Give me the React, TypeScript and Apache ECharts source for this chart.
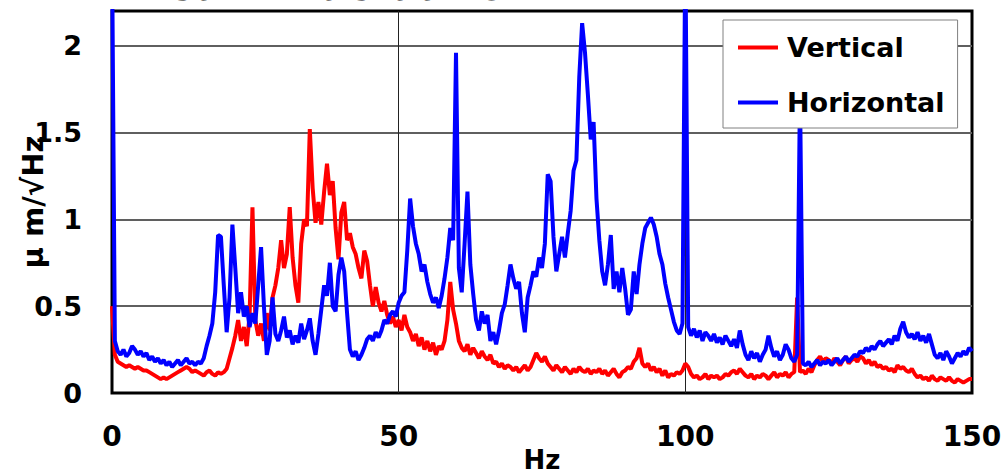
import React, { useEffect, useRef } from "react";
import * as echarts from "echarts";

// Amplitude spectra sampled every 0.5 Hz from 0 to 150 Hz
const FREQ_STEP_HZ = 0.5;
const X_TICKS = [0, 50, 100, 150];
const Y_TICKS = [0, 0.5, 1, 1.5, 2];
const SERIES_NAMES = ["Vertical", "Horizontal"];
const TITLE = "Beam Fluctuation";
const X_NAME = "Hz";
const Y_NAME = "μ m/√Hz";

const vertical: number[] = [
  0.50, 0.22, 0.18, 0.17, 0.16, 0.15, 0.16, 0.15, 0.14, 0.15,
  0.14, 0.13, 0.13, 0.12, 0.11, 0.10, 0.09, 0.08, 0.09, 0.08,
  0.09, 0.10, 0.11, 0.12, 0.13, 0.14, 0.15, 0.14, 0.12, 0.13,
  0.12, 0.11, 0.10, 0.12, 0.13, 0.11, 0.10, 0.12, 0.11, 0.12,
  0.14, 0.20, 0.26, 0.33, 0.42, 0.30, 0.38, 0.27, 0.45, 1.07,
  0.42, 0.33, 0.40, 0.30, 0.46, 0.36, 0.55, 0.62, 0.72, 0.88,
  0.72, 0.80, 1.07, 0.78, 0.62, 0.52, 0.86, 1.00, 0.96, 1.52,
  1.18, 0.98, 1.10, 0.97, 1.16, 1.32, 1.14, 1.22, 0.95, 0.77,
  1.04, 1.10, 0.88, 0.92, 0.84, 0.80, 0.72, 0.66, 0.82, 0.76,
  0.62, 0.50, 0.61, 0.52, 0.47, 0.53, 0.45, 0.40, 0.44, 0.38,
  0.42, 0.36, 0.45, 0.38, 0.35, 0.30, 0.34, 0.27, 0.32, 0.25,
  0.30, 0.24, 0.29, 0.22, 0.27, 0.25, 0.30, 0.42, 0.64, 0.48,
  0.40, 0.30, 0.26, 0.24, 0.28, 0.22, 0.26, 0.23, 0.20, 0.24,
  0.21, 0.19, 0.22, 0.17, 0.18, 0.15, 0.17, 0.14, 0.16, 0.15,
  0.13, 0.15, 0.12, 0.14, 0.16, 0.13, 0.15, 0.19, 0.23, 0.20,
  0.18, 0.21, 0.17, 0.15, 0.13, 0.16, 0.14, 0.12, 0.15, 0.13,
  0.11, 0.14, 0.12, 0.15, 0.13, 0.12, 0.14, 0.11, 0.13, 0.12,
  0.14, 0.11, 0.13, 0.10, 0.12, 0.14, 0.11, 0.09, 0.12, 0.13,
  0.15, 0.14, 0.18, 0.20, 0.26, 0.17, 0.15, 0.17, 0.13, 0.15,
  0.12, 0.14, 0.10, 0.13, 0.09, 0.11, 0.10, 0.12, 0.11, 0.13,
  0.17, 0.15, 0.11, 0.09, 0.10, 0.08, 0.09, 0.11, 0.08, 0.10,
  0.09, 0.10, 0.08, 0.09, 0.11, 0.10, 0.12, 0.13, 0.11, 0.14,
  0.12, 0.10, 0.09, 0.11, 0.08, 0.10, 0.09, 0.11, 0.10, 0.08,
  0.10, 0.12, 0.09, 0.11, 0.10, 0.12, 0.09, 0.11, 0.12, 0.55,
  0.12, 0.13, 0.11, 0.14, 0.12, 0.16, 0.19, 0.21, 0.18, 0.20,
  0.19, 0.17, 0.20, 0.18, 0.16, 0.19, 0.21, 0.17, 0.19, 0.20,
  0.18, 0.21, 0.20, 0.17, 0.19, 0.16, 0.18, 0.15, 0.16, 0.14,
  0.15, 0.13, 0.14, 0.12, 0.16, 0.14, 0.15, 0.13, 0.12, 0.14,
  0.11, 0.09, 0.10, 0.08, 0.09, 0.07, 0.10, 0.08, 0.07, 0.09,
  0.08, 0.07, 0.09, 0.07, 0.06, 0.08, 0.07, 0.06, 0.07, 0.08,
  0.08,
];

const horizontal: number[] = [
  2.60, 0.30, 0.24, 0.22, 0.25, 0.21, 0.23, 0.27, 0.25, 0.22,
  0.24, 0.21, 0.23, 0.19, 0.21, 0.18, 0.20, 0.17, 0.19, 0.16,
  0.18, 0.15, 0.17, 0.19, 0.16, 0.18, 0.20, 0.17, 0.18, 0.16,
  0.18, 0.17, 0.20, 0.27, 0.33, 0.40, 0.58, 0.91, 0.90, 0.62,
  0.35, 0.55, 0.97, 0.72, 0.46, 0.58, 0.44, 0.50, 0.38, 0.46,
  0.40, 0.62, 0.84, 0.50, 0.22, 0.30, 0.55, 0.34, 0.30, 0.36,
  0.44, 0.32, 0.36, 0.28, 0.33, 0.29, 0.40, 0.31, 0.36, 0.43,
  0.30, 0.22, 0.34, 0.48, 0.62, 0.56, 0.75, 0.50, 0.47, 0.68,
  0.78, 0.70, 0.46, 0.25, 0.21, 0.24, 0.19, 0.22, 0.26, 0.31,
  0.33, 0.30, 0.35, 0.32, 0.36, 0.42, 0.40, 0.45, 0.47, 0.44,
  0.52, 0.56, 0.58, 0.82, 1.12, 0.96, 0.86, 0.80, 0.70, 0.74,
  0.64, 0.57, 0.52, 0.55, 0.49, 0.56, 0.66, 0.78, 0.95, 0.88,
  1.96, 0.72, 0.58, 0.86, 1.16, 0.74, 0.57, 0.42, 0.36, 0.47,
  0.40, 0.45, 0.30, 0.35, 0.28, 0.36, 0.46, 0.51, 0.62, 0.74,
  0.66, 0.60, 0.64, 0.46, 0.35, 0.55, 0.62, 0.70, 0.67, 0.78,
  0.72, 0.86, 1.26, 1.22, 0.90, 0.70, 0.80, 0.90, 0.78, 0.92,
  1.05, 1.28, 1.34, 1.82, 2.13, 1.96, 1.72, 1.46, 1.56, 1.12,
  0.88, 0.70, 0.62, 0.74, 0.91, 0.60, 0.70, 0.58, 0.72, 0.60,
  0.45, 0.48, 0.70, 0.57, 0.74, 0.86, 0.95, 0.98, 1.01, 0.97,
  0.90, 0.80, 0.74, 0.63, 0.55, 0.48, 0.41, 0.36, 0.34, 0.40,
  2.60, 0.38, 0.33, 0.37, 0.32, 0.36, 0.30, 0.35, 0.33, 0.30,
  0.34, 0.29, 0.32, 0.28, 0.33, 0.30, 0.27, 0.31, 0.26, 0.36,
  0.28, 0.22, 0.19, 0.24, 0.20, 0.23, 0.18, 0.22, 0.25, 0.33,
  0.26, 0.21, 0.24, 0.19, 0.22, 0.28, 0.25, 0.20, 0.18, 0.22,
  1.75, 0.17, 0.16, 0.18, 0.15, 0.17, 0.19, 0.16, 0.18, 0.17,
  0.19, 0.16, 0.18, 0.20, 0.17, 0.19, 0.21, 0.18, 0.20, 0.22,
  0.21, 0.24, 0.23, 0.26, 0.24, 0.27, 0.25, 0.28, 0.30, 0.27,
  0.29, 0.31, 0.28, 0.33, 0.30, 0.37, 0.41, 0.35, 0.32, 0.34,
  0.31, 0.35, 0.30, 0.33, 0.29, 0.34, 0.28, 0.22, 0.20, 0.23,
  0.19, 0.24, 0.21, 0.17, 0.20, 0.23, 0.21, 0.24, 0.22, 0.26,
  0.24,
];

const FONT = '"DejaVu Sans", sans-serif';

const toPairs = (values: number[]) =>
  values.map((v, i) => [i * FREQ_STEP_HZ, v]);

export default function App() {
  const ref = useRef<HTMLDivElement>(null);

  useEffect(() => {
    if (!ref.current) return;
    const chart = echarts.init(ref.current, undefined, { renderer: "svg" });

    const yMax = 2.2;
    const xMin = X_TICKS[0];
    const xMax = X_TICKS[X_TICKS.length - 1];
    const yStep = Y_TICKS[1] - Y_TICKS[0];
    const xStep = X_TICKS[1] - X_TICKS[0];

    chart.setOption({
      animation: false,
      backgroundColor: "#ffffff",
      grid: {
        left: 112,
        right: 29,
        top: 11,
        bottom: 76,
        show: true,
        borderColor: "#000",
        borderWidth: 3,
        backgroundColor: "transparent",
        containLabel: false,
        outerBoundsMode: "none",
      },
      graphic: [
        {
          type: "text",
          left: 137,
          top: -34,
          silent: true,
          style: {
            text: TITLE,
            font: `bold 40px ${FONT}`,
            fill: "#000",
          },
        },
      ],
      legend: {
        orient: "vertical",
        left: 723,
        top: 20,
        padding: [14, 13, 12, 15],
        itemGap: 28,
        itemWidth: 40,
        itemHeight: 4,
        icon: "rect",
        backgroundColor: "#fff",
        borderColor: "#808080",
        borderWidth: 1,
        data: SERIES_NAMES,
        textStyle: {
          fontFamily: FONT,
          fontWeight: "bold",
          fontSize: 27,
          color: "#000",
          padding: [0, 0, 0, 4],
        },
      },
      xAxis: {
        type: "value",
        min: xMin,
        max: xMax,
        interval: xStep,
        name: X_NAME,
        nameLocation: "middle",
        nameGap: 54,
        nameMoveOverlap: false,
        nameTextStyle: {
          fontFamily: FONT,
          fontWeight: "bold",
          fontSize: 26,
          color: "#000",
        },
        axisLine: { show: false },
        axisTick: { show: false },
        axisLabel: {
          margin: 29,
          fontFamily: FONT,
          fontWeight: "bold",
          fontSize: 28,
          color: "#000",
        },
        splitLine: {
          show: true,
          lineStyle: { color: ["#000", "#222", "#222", "#000"], width: 1 },
        },
      },
      yAxis: {
        type: "value",
        min: 0,
        max: yMax,
        interval: yStep,
        name: Y_NAME,
        nameLocation: "middle",
        nameGap: 65,
        nameMoveOverlap: false,
        nameTextStyle: {
          fontFamily: FONT,
          fontWeight: "bold",
          fontSize: 29,
          color: "#000",
        },
        axisLine: { show: false },
        axisTick: { show: false },
        axisLabel: {
          margin: 30,
          showMaxLabel: false,
          fontFamily: FONT,
          fontWeight: "bold",
          fontSize: 27,
          color: "#000",
        },
        splitLine: {
          show: true,
          lineStyle: {
            color: ["#000", "#5f5f5f", "#5f5f5f", "#5f5f5f", "#5f5f5f", "#000"],
            width: 2,
          },
        },
      },
      series: [
        {
          name: SERIES_NAMES[0],
          type: "line",
          data: toPairs(vertical),
          showSymbol: false,
          symbol: "none",
          clip: true,
          color: "#ff0000",
          lineStyle: { color: "#ff0000", width: 4 },
          emphasis: { disabled: true },
        },
        {
          name: SERIES_NAMES[1],
          type: "line",
          data: toPairs(horizontal),
          showSymbol: false,
          symbol: "none",
          clip: true,
          color: "#0000ff",
          lineStyle: { color: "#0000ff", width: 4 },
          emphasis: { disabled: true },
        },
      ],
    });

    return () => chart.dispose();
  }, []);

  return (
    <div
      ref={ref}
      style={{
        position: "absolute",
        left: 0,
        top: 0,
        width: 1001,
        height: 469,
        background: "#fff",
      }}
    />
  );
}
